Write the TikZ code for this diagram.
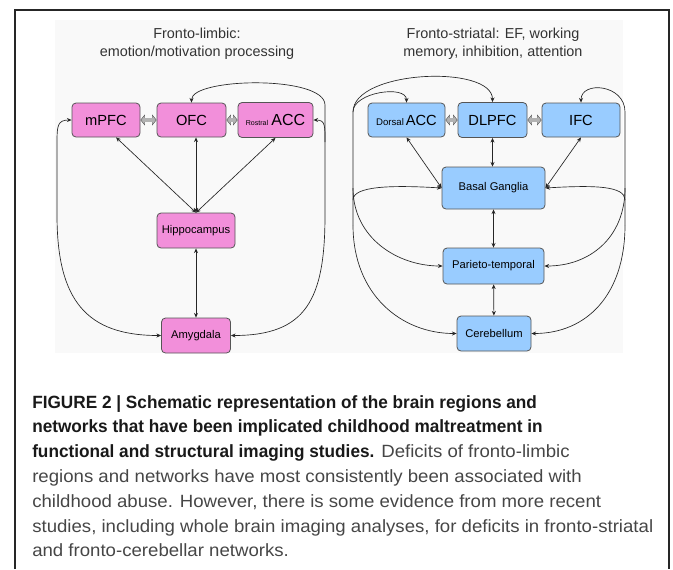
\documentclass[tikz,border=0pt]{standalone}
\usepackage{fontspec}
\setmainfont{Liberation Sans}
\newfontfamily\capfont[FakeStretch=1.05]{Liberation Sans}
\newfontfamily\capboldfont[FakeStretch=0.97]{Liberation Sans}
\usetikzlibrary{arrows.meta}
\definecolor{regionpink}{RGB}{242,143,218}
\definecolor{regionblue}{RGB}{153,204,255}
\definecolor{boxline}{RGB}{85,85,85}
\definecolor{captext}{RGB}{70,70,70}
\tikzset{
	region/.style={draw=boxline, line width=0.6pt, rounded corners=3pt, inner sep=0pt, align=center, font=\fontsize{8.4}{10}\selectfont},
	limbic/.style={region, fill=regionpink},
	striatal/.style={region, fill=regionblue},
	link/.style={line width=0.5pt, draw=black!85, >={Stealth[length=3.5pt,width=3pt]}},
	fatedge/.style={line width=3.6pt, draw=boxline, {Triangle[length=3.3pt,width=8pt]}-{Triangle[length=3.3pt,width=8pt]}},
	fatcore/.style={line width=2.5pt, draw=gray!60, shorten <=0.6pt, shorten >=0.6pt, {Triangle[length=2.5pt,width=6.4pt]}-{Triangle[length=2.5pt,width=6.4pt]}},
	captionline/.style={anchor=base west, inner sep=0pt, font=\capfont\fontsize{13.3}{18}\selectfont}
}
\newcommand{\bigtxt}{\fontsize{11}{13}\selectfont}
\newcommand{\capbold}[1]{{\capboldfont\bfseries\color{black!90}#1}}

\begin{document}
\begin{tikzpicture}[x=0.75pt, y=-0.75pt]
			%%%%% START %%%%%
			\useasboundingbox (0, 0) rectangle (673, 569);
			\fill[black!2.5] (55, 20) rectangle (623, 353);
			\draw[line width=1.5pt, black!85] (15, 569) -- (15, 10) -- (669, 10) -- (669, 569);
			
			\node[align=center, text=black!80, font=\fontsize{10.8}{13.5}\selectfont] (limbictitle) at (197, 44) {Fronto-limbic:\\emotion/motivation processing};
			\node[align=center, text=black!80, font=\fontsize{10.8}{13.5}\selectfont] (striataltitle) at (493, 44) {Fronto-striatal: EF, working\\memory, inhibition, attention};
			
			% fronto-limbic boxes
			\node[limbic, minimum width=51pt, minimum height=25.5pt] (mpfc) at (106, 120) {\bigtxt mPFC};
			\node[limbic, minimum width=51.75pt, minimum height=25.5pt] (ofc) at (191.5, 120) {\bigtxt OFC};
			\node[limbic, minimum width=56.25pt, minimum height=26.25pt] (racc) at (275.5, 120) {{\fontsize{5.3}{6}\selectfont Rostral} {\fontsize{12}{13}\selectfont ACC}};
			\node[limbic, minimum width=58.5pt, minimum height=26.25pt] (hip) at (196, 230.5) {Hippocampus};
			\node[limbic, minimum width=51.75pt, minimum height=26.25pt] (amyg) at (196, 335.5) {Amygdala};
			
			% fronto-striatal boxes
			\node[striatal, minimum width=57.75pt, minimum height=25.5pt] (dacc) at (406.5, 120) {{\fontsize{7.2}{8}\selectfont Dorsal}\,{\bigtxt ACC}};
			\node[striatal, minimum width=51.75pt, minimum height=26.25pt] (dlpfc) at (492.5, 120) {\bigtxt DLPFC};
			\node[striatal, minimum width=58.5pt, minimum height=25.5pt] (ifc) at (581, 120) {\bigtxt IFC};
			\node[striatal, minimum width=77.25pt, minimum height=31.5pt] (bg) at (493.5, 188) {Basal Ganglia};
			\node[striatal, minimum width=75.75pt, minimum height=27pt] (pt) at (493.5, 266) {Parieto-temporal};
			\node[striatal, minimum width=55.5pt, minimum height=26.25pt] (cereb) at (494, 333.5) {Cerebellum};
			
			\coordinate (limbL) at (57, 142);
			\coordinate (limbLlow) at (57, 215);
			\coordinate (limbR) at (325, 142);
			\coordinate (limbRlow) at (325, 215);
			\coordinate (limbRtop) at (325, 105);
			\coordinate (strL) at (353, 112);
			\coordinate (strLmid) at (353, 188);
			\coordinate (strLlow) at (353, 225);
			\coordinate (strR) at (625, 112);
			\coordinate (strRmid) at (625, 188);
			\coordinate (strRlow) at (625, 225);
			
			\foreach \a/\b in {mpfc/ofc, ofc/racc, dacc/dlpfc, dlpfc/ifc}{
				\draw[fatedge] (\a) -- (\b);
				\draw[fatcore] (\a) -- (\b);
			}
			
			% fronto-limbic links
			\draw[link, <->] (hip.north) -- (mpfc.-60);
			\draw[link, <->] (hip.north) -- (hip.north |- ofc.south);
			\draw[link, <->] (hip.north) -- (racc.south);
			\draw[link, <->] (hip) -- (amyg);
			\draw[link, <->] (mpfc.west) .. controls +(-14, 0) and +(0, -16) .. (limbL) -- (limbLlow) .. controls +(0, 85) and +(-75, 0) .. (amyg.west);
			\draw[link, <->] (racc.east) .. controls +(12, 0) and +(0, -16) .. (limbR) -- (limbRlow) .. controls +(0, 85) and +(75, 0) .. (amyg.east);
			\draw[link, ->] (limbR) -- (limbRtop) .. controls +(0, -30) and +(0, -25) .. (ofc.north);
			
			% fronto-striatal links
			\draw[link, <->] (dacc.south) -- (bg.west);
			\draw[link, <->] (ifc.south) -- (bg.east);
			\draw[link, <->] (dlpfc.south) -- (dlpfc.south |- bg.north);
			\draw[link, <->] (bg) -- (pt);
			\draw[link, <->] (pt) -- (cereb);
			
			\draw[link, ->] (strLlow) -- (strL) .. controls +(0, -20) and +(0, -18) .. (dacc.north);
			\draw[link, ->] (strL) .. controls +(0, -42) and +(0, -38) .. (dlpfc.north);
			\draw[link, ->] (353, 200) .. controls +(0, -14) and +(-50, -3) .. (bg.west);
			\draw[link, ->] (strLmid) .. controls +(0, 50) and +(-45, 0) .. (pt.west);
			\draw[link, ->] (strLlow) .. controls +(0, 70) and +(-55, 0) .. (cereb.west);
			
			\draw[link, ->] (strRlow) -- (strR) .. controls +(0, -28) and +(0, -22) .. (ifc.north);
			\draw[link, ->] (625, 200) .. controls +(0, -14) and +(50, -3) .. (bg.east);
			\draw[link, ->] (strRmid) .. controls +(0, 50) and +(45, 0) .. (pt.east);
			\draw[link, ->] (strRlow) .. controls +(0, 70) and +(55, 0) .. (cereb.east);
			
			% caption
			\node[captionline] (cap1) at (32, 408) {\capbold{FIGURE 2 | Schematic representation of the brain regions and}};
			\node[captionline] (cap2) at (32, 432.8) {\capbold{networks that have been implicated childhood maltreatment in}};
			\node[captionline, text=captext] (cap3) at (32, 457.6) {\capbold{functional and structural imaging studies.} Deficits of fronto-limbic};
			\node[captionline, text=captext] (cap4) at (32, 482.4) {regions and networks have most consistently been associated with};
			\node[captionline, text=captext] (cap5) at (32, 507.2) {childhood abuse. However, there is some evidence from more recent};
			\node[captionline, text=captext] (cap6) at (32, 532) {studies, including whole brain imaging analyses, for deficits in fronto-striatal};
			\node[captionline, text=captext] (cap7) at (32, 556.8) {and fronto-cerebellar networks.};
			
			%%%%% END %%%%%
\end{tikzpicture}
\end{document}
